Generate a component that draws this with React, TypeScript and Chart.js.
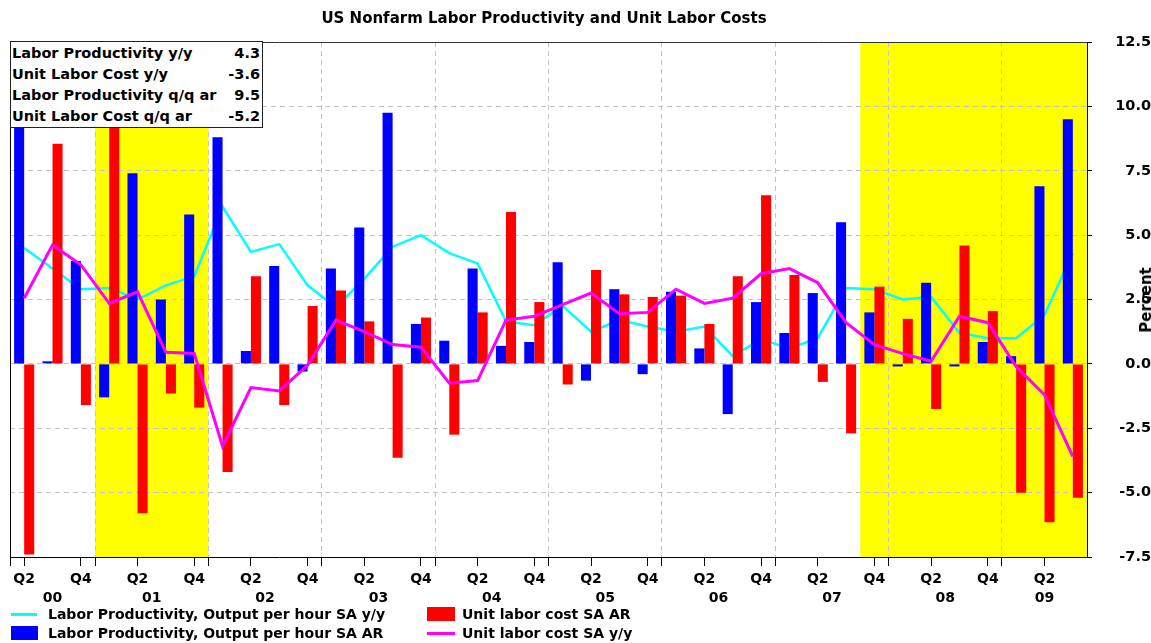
import React, { useEffect, useRef } from "react";
import { Chart, registerables } from "chart.js";

Chart.register(...registerables);

// ---------- data ----------
const quarters = [
  "2000Q2", "2000Q3", "2000Q4",
  "2001Q1", "2001Q2", "2001Q3", "2001Q4",
  "2002Q1", "2002Q2", "2002Q3", "2002Q4",
  "2003Q1", "2003Q2", "2003Q3", "2003Q4",
  "2004Q1", "2004Q2", "2004Q3", "2004Q4",
  "2005Q1", "2005Q2", "2005Q3", "2005Q4",
  "2006Q1", "2006Q2", "2006Q3", "2006Q4",
  "2007Q1", "2007Q2", "2007Q3", "2007Q4",
  "2008Q1", "2008Q2", "2008Q3", "2008Q4",
  "2009Q1", "2009Q2", "2009Q3",
];

// Labor Productivity, Output per hour SA y/y (cyan line)
const prodYoY = [
  4.5, 3.7, 2.9,
  2.95, 2.5, 3.05, 3.4,
  6.1, 4.35, 4.65, 3.05,
  2.2, 3.3, 4.55, 5.0,
  4.3, 3.9, 1.65, 1.5,
  2.25, 1.25, 1.7, 1.45,
  1.25, 1.45, 0.3, 0.95,
  0.6, 1.0, 2.95, 2.9,
  2.5, 2.6, 1.2, 1.0,
  1.0, 1.9, 4.3,
];

// Labor Productivity, Output per hour SA AR (blue bars)
const prodAR = [
  9.6, 0.1, 4.0,
  -1.3, 7.4, 2.5, 5.8,
  8.8, 0.5, 3.8, -0.3,
  3.7, 5.3, 9.75, 1.55,
  0.9, 3.7, 0.7, 0.85,
  3.95, -0.65, 2.9, -0.4,
  2.8, 0.6, -1.95, 2.4,
  1.2, 2.75, 5.5, 2.0,
  -0.1, 3.15, -0.1, 0.85,
  0.3, 6.9, 9.5,
];

// Unit labor cost SA AR (red bars)
const ulcAR = [
  -7.4, 8.55, -1.6,
  9.4, -5.8, -1.15, -1.7,
  -4.2, 3.4, -1.6, 2.25,
  2.85, 1.65, -3.65, 1.8,
  -2.75, 2.0, 5.9, 2.4,
  -0.8, 3.65, 2.7, 2.6,
  2.65, 1.55, 3.4, 6.55,
  3.45, -0.7, -2.7, 3.0,
  1.75, -1.75, 4.6, 2.05,
  -5.0, -6.15, -5.2,
];

// Unit labor cost SA y/y (magenta line)
const ulcYoY = [
  2.55, 4.62, 3.85,
  2.35, 2.8, 0.45, 0.4,
  -3.2, -0.92, -1.05, -0.05,
  1.7, 1.25, 0.75, 0.65,
  -0.75, -0.65, 1.7, 1.85,
  2.3, 2.75, 1.95, 2.0,
  2.9, 2.35, 2.55, 3.5,
  3.7, 3.15, 1.6, 0.75,
  0.4, 0.1, 1.85, 1.6,
  -0.1, -1.2, -3.6,
];

const recessions = [
  ["2001Q1", "2001Q4"],
  ["2007Q4", "2009Q3"],
];

const yMin = -7.5;
const yMax = 12.5;
const yStep = 2.5;

const titleText = "US Nonfarm Labor Productivity and Unit Labor Costs";
const yTitle = "Percent";
const seriesNames = {
  prodYoY: "Labor Productivity, Output per hour SA y/y",
  prodAR: "Labor Productivity, Output per hour SA AR",
  ulcAR: "Unit labor cost SA AR",
  ulcYoY: "Unit labor cost SA y/y",
};
const boxRows = [
  ["Labor Productivity y/y", prodYoY],
  ["Unit Labor Cost y/y", ulcYoY],
  ["Labor Productivity q/q ar", prodAR],
  ["Unit Labor Cost q/q ar", ulcAR],
];

// ---------- derived axis helpers ----------
const FONT = "'DejaVu Sans', Verdana, sans-serif";
const GRID = "#c4c4c4";
const CYAN = "#00ffff";
const BLUE = "#0000ff";
const RED = "#ff0000";
const MAGENTA = "#ff00ff";

const qLabelMap = new Map<number, string>();
const boundaries: number[] = [-0.5];
const yearCenters = new Map<number, string>();
{
  const yearIdx: Record<string, number[]> = {};
  quarters.forEach((q, i) => {
    const yr = q.slice(0, 4);
    const qq = q.slice(4);
    if (qq === "Q2" || qq === "Q4") qLabelMap.set(i, qq);
    if (qq === "Q1") boundaries.push(i - 0.5);
    (yearIdx[yr] = yearIdx[yr] || []).push(i);
  });
  Object.keys(yearIdx).forEach((yr) => {
    const arr = yearIdx[yr];
    yearCenters.set((arr[0] + arr[arr.length - 1]) / 2, yr.slice(2));
  });
}
const boundarySet = new Set(boundaries);
const xqTicks = [...boundaries, ...Array.from(qLabelMap.keys())].sort((a, b) => a - b);
const xMin = -0.5;
const xMax = quarters.length - 0.5;

const shadePlugin = {
  id: "recessionShade",
  beforeDraw(chart: any) {
    const { ctx, chartArea } = chart;
    const xs = chart.scales.xq;
    if (!chartArea || !xs) return;
    ctx.save();
    ctx.fillStyle = "#ffff00";
    recessions.forEach(([a, b]) => {
      const i0 = quarters.indexOf(a);
      const i1 = quarters.indexOf(b);
      const x0 = xs.getPixelForValue(i0 - 0.5);
      const x1 = xs.getPixelForValue(i1 + 0.5);
      ctx.fillRect(x0, chartArea.top, x1 - x0, chartArea.bottom - chartArea.top);
    });
    ctx.restore();
  },
};

export default function App() {
  const canvasRef = useRef<HTMLCanvasElement | null>(null);

  useEffect(() => {
    const canvas = canvasRef.current;
    if (!canvas) return;
    const tickFont = { family: FONT, size: 14, weight: "bold" as const };
    const chart = new Chart(canvas, {
      type: "bar",
      data: {
        labels: quarters,
        datasets: [
          {
            type: "line",
            label: seriesNames.prodYoY,
            data: prodYoY,
            borderColor: CYAN,
            backgroundColor: CYAN,
            borderWidth: 2.5,
            pointRadius: 0,
            tension: 0,
            fill: false,
            order: 2,
            xAxisID: "x",
            yAxisID: "y",
          } as any,
          {
            type: "bar",
            label: seriesNames.prodAR,
            data: prodAR,
            backgroundColor: BLUE,
            borderWidth: 0,
            categoryPercentage: 0.71,
            barPercentage: 1.0,
            order: 1,
            xAxisID: "x",
            yAxisID: "y",
          },
          {
            type: "bar",
            label: seriesNames.ulcAR,
            data: ulcAR,
            backgroundColor: RED,
            borderWidth: 0,
            categoryPercentage: 0.71,
            barPercentage: 1.0,
            order: 1,
            xAxisID: "x",
            yAxisID: "y",
          },
          {
            type: "line",
            label: seriesNames.ulcYoY,
            data: ulcYoY,
            borderColor: MAGENTA,
            backgroundColor: MAGENTA,
            borderWidth: 3,
            pointRadius: 0,
            tension: 0,
            fill: false,
            order: 0,
            xAxisID: "x",
            yAxisID: "y",
          } as any,
        ],
      },
      options: {
        responsive: false,
        animation: false,
        devicePixelRatio: 1,
        layout: { padding: { left: 10, top: 42, right: 0, bottom: 0 }, autoPadding: false },
        plugins: {
          legend: { display: false },
          title: { display: false },
          tooltip: { enabled: false },
        },
        scales: {
          x: {
            type: "category",
            display: false,
            offset: true,
          },
          xq: {
            type: "linear",
            position: "bottom",
            weight: 0,
            min: xMin,
            max: xMax,
            offset: false,
            afterBuildTicks: (s: any) => {
              s.ticks = xqTicks.map((v) => ({ value: v }));
            },
            afterFit: (s: any) => {
              s.height = 32;
              s.paddingLeft = 0;
              s.paddingRight = 0;
            },
            ticks: {
              autoSkip: false,
              maxRotation: 0,
              minRotation: 0,
              padding: 5,
              color: "#000",
              font: tickFont,
              callback: (v: any) => qLabelMap.get(Number(v)) ?? "",
            },
            grid: {
              offset: false,
              drawOnChartArea: true,
              drawTicks: true,
              tickLength: 9,
              color: (ctx: any) => {
                const v = ctx.tick ? ctx.tick.value : NaN;
                return boundarySet.has(v) && v > xMin ? GRID : "rgba(0,0,0,0)";
              },
              tickColor: "#000",
              lineWidth: 1,
            },
            border: { display: true, color: "#000", width: 1, dash: [5, 4] },
          } as any,
          xYear: {
            type: "linear",
            position: "bottom",
            weight: 1,
            min: xMin,
            max: xMax,
            offset: false,
            afterBuildTicks: (s: any) => {
              s.ticks = Array.from(yearCenters.keys()).map((v) => ({ value: v }));
            },
            afterFit: (s: any) => {
              s.height = 54;
              s.paddingLeft = 0;
              s.paddingRight = 0;
            },
            ticks: {
              autoSkip: false,
              maxRotation: 0,
              minRotation: 0,
              padding: 1,
              color: "#000",
              font: tickFont,
              callback: (v: any) => yearCenters.get(Number(v)) ?? "",
            },
            grid: { offset: false, display: false, drawTicks: false, drawOnChartArea: false },
            border: { display: false },
          } as any,
          xTop: {
            type: "linear",
            position: "top",
            min: xMin,
            max: xMax,
            offset: false,
            ticks: { display: false },
            grid: { offset: false, drawOnChartArea: false, drawTicks: false },
            border: { display: true, color: "#333", width: 1 },
            afterFit: (s: any) => {
              s.height = 0;
            },
          } as any,
          yLeft: {
            type: "linear",
            position: "left",
            min: 0,
            max: 1,
            ticks: { display: false },
            grid: { drawOnChartArea: false, drawTicks: false },
            border: { display: true, color: "#000", width: 1 },
            afterFit: (s: any) => {
              s.width = 0;
            },
          } as any,
          y: {
            type: "linear",
            position: "right",
            min: yMin,
            max: yMax,
            ticks: {
              stepSize: yStep,
              padding: 5,
              crossAlign: "far",
              color: "#000",
              font: { family: FONT, size: 14.5, weight: "bold" },
              callback: (v: any) => Number(v).toFixed(1),
            },
            grid: {
              color: GRID,
              tickColor: "#000",
              tickLength: 5,
              lineWidth: 1,
            },
            border: { display: true, color: "#000", width: 1, dash: [5, 4] },
            afterFit: (s: any) => {
              s.width = 64;
            },
          } as any,
        },
      },
      plugins: [shadePlugin],
    });
    return () => chart.destroy();
  }, []);

  const legendText: React.CSSProperties = {
    position: "absolute",
    fontFamily: FONT,
    fontWeight: "bold",
    fontSize: 14,
    lineHeight: "18px",
    whiteSpace: "nowrap",
    color: "#000",
  };

  return (
    <div
      style={{
        position: "absolute",
        left: 0,
        top: 0,
        width: 1151,
        height: 643,
        background: "#fff",
        fontFamily: FONT,
        overflow: "hidden",
      }}
    >
      <canvas ref={canvasRef} width={1151} height={643} style={{ position: "absolute", left: 0, top: 0 }} />

      <div
        style={{
          position: "absolute",
          left: 0,
          top: 9,
          width: 1088,
          textAlign: "center",
          fontWeight: "bold",
          fontSize: 15,
          lineHeight: "18px",
          color: "#000",
          whiteSpace: "nowrap",
        }}
      >
        {titleText}
      </div>

      <div
        style={{
          position: "absolute",
          left: 10,
          top: 41,
          width: 253,
          height: 87,
          boxSizing: "border-box",
          border: "1px solid #222",
          background: "#fff",
          paddingTop: 1,
        }}
      >
        {boxRows.map(([label, arr]: any) => (
          <div
            key={label}
            style={{
              display: "flex",
              justifyContent: "space-between",
              height: 21,
              lineHeight: "21px",
              fontWeight: "bold",
              fontSize: 14.5,
              paddingLeft: 1,
              paddingRight: 2,
              whiteSpace: "nowrap",
              color: "#000",
            }}
          >
            <span>{label}</span>
            <span>{arr[arr.length - 1].toFixed(1)}</span>
          </div>
        ))}
      </div>

      <div
        style={{
          position: "absolute",
          left: 1146,
          top: 300,
          transform: "translate(-50%, -50%) rotate(-90deg)",
          fontWeight: "bold",
          fontSize: 15,
          lineHeight: "18px",
          whiteSpace: "nowrap",
          color: "#000",
        }}
      >
        {yTitle}
      </div>

      {/* legend */}
      <div style={{ position: "absolute", left: 11, top: 613, width: 26, height: 3, background: CYAN }} />
      <div style={{ ...legendText, left: 48, top: 605 }}>{seriesNames.prodYoY}</div>
      <div style={{ position: "absolute", left: 11, top: 626, width: 27, height: 14, background: BLUE }} />
      <div style={{ ...legendText, left: 48, top: 624 }}>{seriesNames.prodAR}</div>
      <div style={{ position: "absolute", left: 427, top: 607, width: 28, height: 14, background: RED }} />
      <div style={{ ...legendText, left: 462, top: 605 }}>{seriesNames.ulcAR}</div>
      <div style={{ position: "absolute", left: 427, top: 632, width: 28, height: 3, background: MAGENTA }} />
      <div style={{ ...legendText, left: 462, top: 624 }}>{seriesNames.ulcYoY}</div>
    </div>
  );
}
